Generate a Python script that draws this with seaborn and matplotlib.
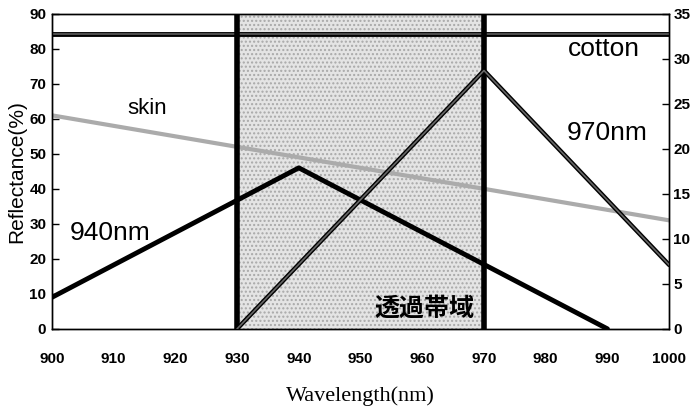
import matplotlib
matplotlib.use("Agg")
import matplotlib.pyplot as plt
import matplotlib.patheffects as pe
import seaborn as sns

# data
wl_940 = [900, 940, 990]
refl_940 = [9, 46, 0]

wl_970 = [930, 970, 1000]
refl_970 = [0, 28.7, 7.1]   # right axis

wl_skin = [900, 1000]
refl_skin = [61, 31]

wl_cotton = [900, 1000]
refl_cotton = [84.2, 84.2]

band = [930, 970]

x_ticks = list(range(900, 1001, 10))
y_left_ticks = list(range(0, 91, 10))
y_right_ticks = list(range(0, 36, 5))

sns.set_style("white")
plt.rcParams['font.family'] = ['Liberation Sans', 'Noto Sans CJK JP', 'DejaVu Sans']
plt.rcParams['text.color'] = 'black'
plt.rcParams['axes.labelcolor'] = 'black'

fig = plt.figure(figsize=(6.92, 4.07), dpi=100)
ax = fig.add_axes([0.075, 0.192, 0.892, 0.774])
ax2 = ax.twinx()

# pass band
ax.axvspan(band[0], band[1], facecolor='#e4e4e4', edgecolor='#a8a8a8', hatch='....', lw=0, zorder=0)
for b in band:
    ax.axvline(b, color='black', lw=4, zorder=5)

sns.lineplot(x=wl_skin, y=refl_skin, ax=ax, color='#ababab', lw=3, zorder=2)
sns.lineplot(x=wl_cotton, y=refl_cotton, ax=ax, color='#555555', lw=1.3, zorder=3,
             path_effects=[pe.Stroke(linewidth=3.5, foreground='black'), pe.Normal()])
sns.lineplot(x=wl_940, y=refl_940, ax=ax, color='black', lw=3.5, zorder=4)
sns.lineplot(x=wl_970, y=refl_970, ax=ax2, color='#666666', lw=1.2, zorder=4,
             path_effects=[pe.Stroke(linewidth=3.2, foreground='black'), pe.Normal()])

ax.set_xlim(900, 1000)
ax.set_ylim(0, 90)
ax2.set_ylim(0, 35)
ax.set_xticks(x_ticks)
ax.set_yticks(y_left_ticks)
ax2.set_yticks(y_right_ticks)

tick_font = dict(family='Liberation Sans', weight='bold', size=11)
ax.set_xticklabels([str(v) for v in x_ticks], fontdict=tick_font)
ax.set_yticklabels([str(v) for v in y_left_ticks], fontdict=tick_font)
ax2.set_yticklabels([str(v) for v in y_right_ticks], fontdict=tick_font)

ax.tick_params(axis='x', direction='in', length=5, width=1, pad=17, colors='black')
ax.tick_params(axis='y', direction='in', length=5, width=1, pad=4, colors='black')
ax2.tick_params(axis='y', direction='in', length=5, width=1, pad=3, colors='black')

for a in (ax, ax2):
    for s in a.spines.values():
        s.set_color('black')
        s.set_linewidth(1)

ax.set_ylabel('Reflectance(%)', fontsize=15, labelpad=2)
ax.set_xlabel('Wavelength(nm)', family='Liberation Serif', fontsize=16, labelpad=14)

ax.text(915.5, 63, 'skin', fontsize=16, ha='center', va='center')
ax.text(909.5, 27.5, '940nm', fontsize=19, ha='center', va='center')
ax.text(989.5, 80, 'cotton', fontsize=19, ha='center', va='center')
ax.text(990, 56, '970nm', fontsize=19, ha='center', va='center')
ax.text(960.4, 5.8, '透過帯域', family=['Noto Sans CJK JP'], weight='bold', fontsize=18,
        ha='center', va='center', zorder=6)

fig.savefig('out.png', dpi=100)
